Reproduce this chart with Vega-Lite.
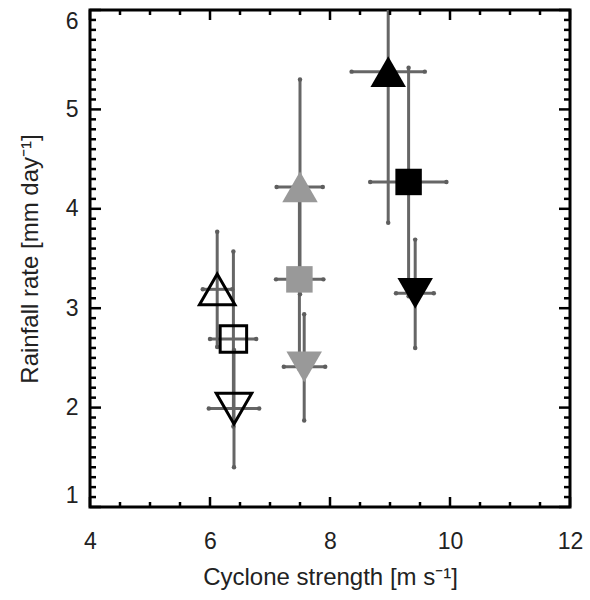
{
  "$schema": "https://vega.github.io/schema/vega-lite/v6.json",
  "width": 480,
  "height": 497,
  "autosize": {"type": "none"},
  "padding": {"left": 90, "top": 10, "right": 20, "bottom": 93},
  "background": "white",
  "config": {
    "view": {"stroke": "#000", "strokeWidth": 3},
    "axis": {
      "domain": false,
      "ticks": false,
      "grid": false,
      "labelFont": "Liberation Sans",
      "titleFont": "Liberation Sans",
      "labelFontSize": 23,
      "titleFontSize": 24,
      "labelColor": "#222",
      "titleColor": "#222",
      "titleFontWeight": "normal",
      "labelOverlap": false
    }
  },
  "datasets": {
    "pts": [
      {"style": "open", "shape": "up", "x": 6.12, "y": 3.19, "xlo": 5.88, "xhi": 6.37, "ylo": 2.61, "yhi": 3.77},
      {"style": "open", "shape": "square", "x": 6.39, "y": 2.69, "xlo": 6.0, "xhi": 6.77, "ylo": 1.81, "yhi": 3.57},
      {"style": "open", "shape": "down", "x": 6.4, "y": 1.99, "xlo": 5.98, "xhi": 6.82, "ylo": 1.4, "yhi": 2.58},
      {"style": "gray", "shape": "up", "x": 7.5, "y": 4.22, "xlo": 7.11, "xhi": 7.88, "ylo": 3.14, "yhi": 5.3},
      {"style": "gray", "shape": "square", "x": 7.49, "y": 3.29, "xlo": 7.1, "xhi": 7.89, "ylo": 2.39, "yhi": 4.19},
      {"style": "gray", "shape": "down", "x": 7.57, "y": 2.41, "xlo": 7.23, "xhi": 7.92, "ylo": 1.87, "yhi": 2.94},
      {"style": "black", "shape": "up", "x": 8.97, "y": 5.38, "xlo": 8.36, "xhi": 9.58, "ylo": 3.86, "yhi": 6.9},
      {"style": "black", "shape": "square", "x": 9.31, "y": 4.27, "xlo": 8.67, "xhi": 9.94, "ylo": 3.12, "yhi": 5.42},
      {"style": "black", "shape": "down", "x": 9.42, "y": 3.15, "xlo": 9.1, "xhi": 9.73, "ylo": 2.6, "yhi": 3.69}
    ],
    "xmajor": [{"v": 4}, {"v": 6}, {"v": 8}, {"v": 10}, {"v": 12}],
    "xminor": [{"v": 4.5}, {"v": 5}, {"v": 5.5}, {"v": 6.5}, {"v": 7}, {"v": 7.5}, {"v": 8.5}, {"v": 9}, {"v": 9.5}, {"v": 10.5}, {"v": 11}, {"v": 11.5}],
    "ymajor": [{"v": 1}, {"v": 2}, {"v": 3}, {"v": 4}, {"v": 5}, {"v": 6}],
    "yminor": [{"v": 1.1}, {"v": 1.2}, {"v": 1.3}, {"v": 1.4}, {"v": 1.5}, {"v": 1.6}, {"v": 1.7}, {"v": 1.8}, {"v": 1.9}, {"v": 2.1}, {"v": 2.2}, {"v": 2.3}, {"v": 2.4}, {"v": 2.5}, {"v": 2.6}, {"v": 2.7}, {"v": 2.8}, {"v": 2.9}, {"v": 3.1}, {"v": 3.2}, {"v": 3.3}, {"v": 3.4}, {"v": 3.5}, {"v": 3.6}, {"v": 3.7}, {"v": 3.8}, {"v": 3.9}, {"v": 4.1}, {"v": 4.2}, {"v": 4.3}, {"v": 4.4}, {"v": 4.5}, {"v": 4.6}, {"v": 4.7}, {"v": 4.8}, {"v": 4.9}, {"v": 5.1}, {"v": 5.2}, {"v": 5.3}, {"v": 5.4}, {"v": 5.5}, {"v": 5.6}, {"v": 5.7}, {"v": 5.8}, {"v": 5.9}]
  },
  "data": {"name": "pts"},
  "layer": [
    {
      "mark": {"type": "rule", "color": "#666", "strokeWidth": 3, "clip": true},
      "encoding": {
        "x": {
          "field": "x", "type": "quantitative",
          "scale": {"domain": [4, 12], "nice": false, "zero": false},
          "axis": {
            "orient": "bottom",
            "values": [4, 6, 8, 10, 12],
            "format": "d",
            "labelFlush": false,
            "labelPadding": 23,
            "title": "Cyclone strength [m s⁻¹]",
            "titlePadding": 12
          }
        },
        "y": {
          "field": "ylo", "type": "quantitative",
          "scale": {"domain": [1, 6], "nice": false, "zero": false},
          "axis": {
            "orient": "left",
            "values": [1, 2, 3, 4, 5, 6],
            "format": "d",
            "labelFlush": true,
            "labelPadding": 12,
            "title": "Rainfall rate [mm day⁻¹]",
            "titlePadding": 23
          }
        },
        "y2": {"field": "yhi"}
      }
    },
    {
      "mark": {"type": "rule", "color": "#666", "strokeWidth": 3, "clip": true},
      "encoding": {
        "y": {"field": "y", "type": "quantitative", "axis": null},
        "x": {"field": "xlo", "type": "quantitative", "axis": null},
        "x2": {"field": "xhi"}
      }
    },
    {
      "transform": [{"fold": ["ylo", "yhi"], "as": ["k", "v"]}],
      "mark": {"type": "circle", "color": "#5e5e5e", "opacity": 1, "size": 20, "clip": true},
      "encoding": {
        "x": {"field": "x", "type": "quantitative", "axis": null},
        "y": {"field": "v", "type": "quantitative", "axis": null}
      }
    },
    {
      "transform": [{"fold": ["xlo", "xhi"], "as": ["k", "v"]}],
      "mark": {"type": "circle", "color": "#5e5e5e", "opacity": 1, "size": 20, "clip": true},
      "encoding": {
        "x": {"field": "v", "type": "quantitative", "axis": null},
        "y": {"field": "y", "type": "quantitative", "axis": null}
      }
    },
    {
      "transform": [{"filter": {"field": "style", "equal": "open"}}],
      "mark": {"type": "point", "filled": false, "stroke": "#000", "strokeWidth": 3, "opacity": 1},
      "encoding": {
        "x": {"field": "x", "type": "quantitative", "axis": null},
        "y": {"field": "y", "type": "quantitative", "axis": null},
        "shape": {"field": "shape", "type": "nominal", "scale": {"domain": ["up", "square", "down"], "range": ["triangle-up", "square", "triangle-down"]}, "legend": null},
        "size": {"field": "shape", "type": "ordinal", "scale": {"type": "ordinal", "domain": ["up", "square", "down"], "range": [1260, 700, 1260]}, "legend": null}
      }
    },
    {
      "transform": [{"filter": {"field": "style", "oneOf": ["gray", "black"]}}],
      "mark": {"type": "point", "filled": true, "opacity": 1, "strokeWidth": 0},
      "encoding": {
        "x": {"field": "x", "type": "quantitative", "axis": null},
        "y": {"field": "y", "type": "quantitative", "axis": null},
        "shape": {"field": "shape", "type": "nominal", "scale": {"domain": ["up", "square", "down"], "range": ["triangle-up", "square", "triangle-down"]}, "legend": null},
        "size": {"field": "shape", "type": "ordinal", "scale": {"type": "ordinal", "domain": ["up", "square", "down"], "range": [1900, 529, 1900]}, "legend": null},
        "color": {"field": "style", "type": "nominal", "scale": {"domain": ["gray", "black"], "range": ["#999999", "#000000"]}, "legend": null}
      }
    },
    {
      "data": {"name": "xmajor"},
      "mark": {"type": "rule", "color": "#000", "strokeWidth": 2.5, "y2Offset": -10},
      "encoding": {
        "x": {"field": "v", "type": "quantitative", "axis": null},
        "y": {"datum": 1, "type": "quantitative", "axis": null},
        "y2": {"datum": 1}
      }
    },
    {
      "data": {"name": "xminor"},
      "mark": {"type": "rule", "color": "#000", "strokeWidth": 2.5, "y2Offset": -5},
      "encoding": {
        "x": {"field": "v", "type": "quantitative", "axis": null},
        "y": {"datum": 1, "type": "quantitative", "axis": null},
        "y2": {"datum": 1}
      }
    },
    {
      "data": {"name": "xmajor"},
      "mark": {"type": "rule", "color": "#000", "strokeWidth": 2.5, "y2Offset": 10},
      "encoding": {
        "x": {"field": "v", "type": "quantitative", "axis": null},
        "y": {"datum": 6, "type": "quantitative", "axis": null},
        "y2": {"datum": 6}
      }
    },
    {
      "data": {"name": "xminor"},
      "mark": {"type": "rule", "color": "#000", "strokeWidth": 2.5, "y2Offset": 5},
      "encoding": {
        "x": {"field": "v", "type": "quantitative", "axis": null},
        "y": {"datum": 6, "type": "quantitative", "axis": null},
        "y2": {"datum": 6}
      }
    },
    {
      "data": {"name": "ymajor"},
      "mark": {"type": "rule", "color": "#000", "strokeWidth": 2.5, "x2Offset": 11},
      "encoding": {
        "y": {"field": "v", "type": "quantitative", "axis": null},
        "x": {"datum": 4, "type": "quantitative", "axis": null},
        "x2": {"datum": 4}
      }
    },
    {
      "data": {"name": "yminor"},
      "mark": {"type": "rule", "color": "#000", "strokeWidth": 2.5, "x2Offset": 6},
      "encoding": {
        "y": {"field": "v", "type": "quantitative", "axis": null},
        "x": {"datum": 4, "type": "quantitative", "axis": null},
        "x2": {"datum": 4}
      }
    },
    {
      "data": {"name": "ymajor"},
      "mark": {"type": "rule", "color": "#000", "strokeWidth": 2.5, "x2Offset": -11},
      "encoding": {
        "y": {"field": "v", "type": "quantitative", "axis": null},
        "x": {"datum": 12, "type": "quantitative", "axis": null},
        "x2": {"datum": 12}
      }
    },
    {
      "data": {"name": "yminor"},
      "mark": {"type": "rule", "color": "#000", "strokeWidth": 2.5, "x2Offset": -6},
      "encoding": {
        "y": {"field": "v", "type": "quantitative", "axis": null},
        "x": {"datum": 12, "type": "quantitative", "axis": null},
        "x2": {"datum": 12}
      }
    }
  ],
  "resolve": {"axis": {"x": "independent", "y": "independent"}}
}
